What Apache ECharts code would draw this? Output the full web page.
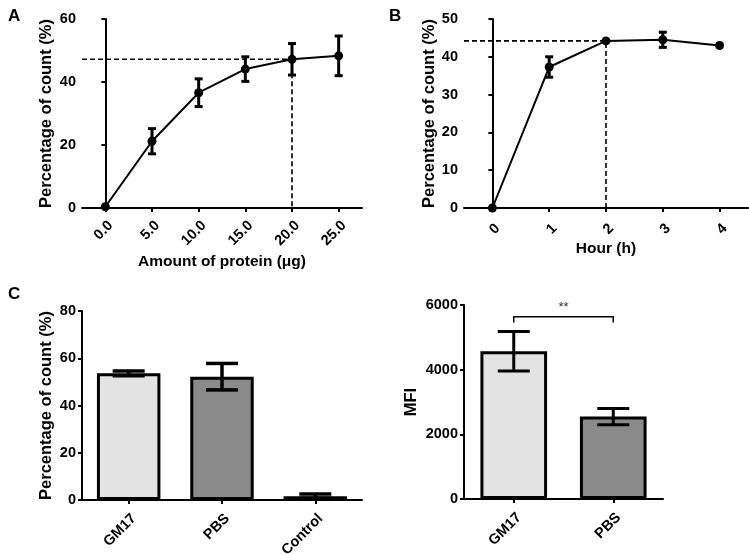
<!DOCTYPE html>
<html>
<head>
  <meta charset="UTF-8">
  <title>Binding assays</title>
  <script src="https://cdn.jsdelivr.net/npm/echarts@6/dist/echarts.min.js"></script>
  <style>
    html, body { margin: 0; padding: 0; background: #fff; }
    #chart { width: 749px; height: 554px; }
  </style>
</head>
<body>
<div id="chart"></div>
<script>
  // panel A: dose response
  var proteinDose = [0, 5, 10, 15, 20, 25];
  var proteinMean = [0.4, 21.2, 36.6, 44.1, 47.2, 48.3];
  var proteinErr = [0, 4.0, 4.4, 3.9, 5.0, 6.3];
  // panel B: time course
  var hours = [0, 1, 2, 3, 4];
  var hourMean = [0, 37.3, 44.2, 44.5, 43.0];
  var hourErr = [0, 2.7, 0, 2.0, 0];
  // panel C left
  var countGroups = ['GM17', 'PBS', 'Control'];
  var countMean = [53.6, 52.2, 1.6];
  var countErr = [1.0, 5.6, 0.9];
  // panel C right
  var mfiGroups = ['GM17', 'PBS'];
  var mfiMean = [4570, 2550];
  var mfiErr = [610, 250];
  var mfiBracket = [5640, 5455]; // top, leg end

  var FONT = '"Liberation Sans", Arial, sans-serif';
  var fills = ['#e3e3e3', '#8a8a8a', '#e3e3e3'];

  function errData(xs, mean, err) {
    return xs.map(function (x, i) { return [x, mean[i] - err[i], mean[i] + err[i]]; });
  }

  function errorBar(capHalf, lw) {
    return function (params, api) {
      var top = api.coord([api.value(0), api.value(2)]);
      var bot = api.coord([api.value(0), api.value(1)]);
      if (Math.abs(top[1] - bot[1]) < 0.5) return null;
      var st = { stroke: '#000', lineWidth: lw };
      return { type: 'group', children: [
        { type: 'line', shape: { x1: top[0], y1: top[1], x2: bot[0], y2: bot[1] }, style: st },
        { type: 'line', shape: { x1: top[0] - capHalf, y1: top[1], x2: top[0] + capHalf, y2: top[1] }, style: st },
        { type: 'line', shape: { x1: bot[0] - capHalf, y1: bot[1], x2: bot[0] + capHalf, y2: bot[1] }, style: st }
      ]};
    };
  }

  var axisLine = { show: true, lineStyle: { color: '#000', width: 2 } };
  var axisTick = { show: true, length: 4, lineStyle: { color: '#000', width: 2 } };
  var tickLabel = { color: '#000', fontSize: 14.5, fontWeight: 'bold', fontFamily: FONT };
  var yNameStyle = { color: '#000', fontSize: 16.5, fontWeight: 'bold', fontFamily: FONT };
  var xNameStyle = { color: '#000', fontSize: 15.5, fontWeight: 'bold', fontFamily: FONT };

  function yAxis(idx, max, step, name, gap) {
    return {
      type: 'value', gridIndex: idx, min: 0, max: max, interval: step,
      name: name, nameLocation: 'middle', nameGap: gap, nameTextStyle: yNameStyle,
      axisLine: axisLine, axisTick: axisTick, splitLine: { show: false },
      axisLabel: Object.assign({ margin: 6, formatter: function (v) { return String(v); } }, tickLabel)
    };
  }

  // slanted labels hang from their top-right corner
  function slanted(margin, extra) {
    return Object.assign({ rotate: 45, margin: margin, verticalAlign: 'top', align: 'right' }, tickLabel, extra || {});
  }

  function grid(l, t, w, h) {
    return { left: l, top: t, width: w, height: h, outerBoundsMode: 'none', containLabel: false };
  }

  var chart = echarts.init(document.getElementById('chart'));
  chart.setOption({
    animation: false,
    backgroundColor: '#fff',
    title: [
      { text: 'A', left: 3, top: 3, textStyle: { fontSize: 17, fontWeight: 'bold', fontFamily: FONT, color: '#000' } },
      { text: 'B', left: 384, top: 3, textStyle: { fontSize: 17, fontWeight: 'bold', fontFamily: FONT, color: '#000' } },
      { text: 'C', left: 3, top: 281, textStyle: { fontSize: 17, fontWeight: 'bold', fontFamily: FONT, color: '#000' } }
    ],
    grid: [
      grid(82, 19, 280, 189),
      grid(464, 19, 284, 189),
      grid(82, 311, 280, 189),
      grid(464, 305, 199, 194)
    ],
    xAxis: [
      {
        type: 'value', gridIndex: 0, min: -2.5, max: 27.5,
        name: 'Amount of protein (\u03bcg)', nameLocation: 'middle', nameGap: 46, nameTextStyle: xNameStyle,
        axisLine: axisLine, splitLine: { show: false },
        axisTick: Object.assign({ customValues: proteinDose }, axisTick),
        axisLabel: slanted(10, { customValues: proteinDose,
          formatter: function (v) { return v.toFixed(1); } })
      },
      {
        type: 'value', gridIndex: 1, min: -0.5, max: 4.5,
        name: 'Hour (h)', nameLocation: 'middle', nameGap: 33, nameTextStyle: xNameStyle,
        axisLine: axisLine, splitLine: { show: false },
        axisTick: Object.assign({ customValues: hours }, axisTick),
        axisLabel: slanted(13, { customValues: hours })
      },
      {
        type: 'category', gridIndex: 2, data: countGroups,
        axisLine: axisLine, axisTick: Object.assign({ alignWithLabel: true }, axisTick),
        axisLabel: slanted(11, { interval: 0 })
      },
      {
        type: 'category', gridIndex: 3, data: mfiGroups,
        axisLine: axisLine, axisTick: Object.assign({ alignWithLabel: true }, axisTick),
        axisLabel: slanted(11, { interval: 0 })
      }
    ],
    yAxis: [
      yAxis(0, 60, 20, 'Percentage of count (%)', 27),
      yAxis(1, 50, 10, 'Percentage of count (%)', 23),
      yAxis(2, 80, 20, 'Percentage of count (%)', 27),
      yAxis(3, 6000, 2000, 'MFI', 44)
    ],
    series: [
      // A
      {
        type: 'line', xAxisIndex: 0, yAxisIndex: 0, symbol: 'none',
        data: [[-2.5, proteinMean[4]], [proteinDose[4], proteinMean[4]], [proteinDose[4], 0]],
        lineStyle: { color: '#000', width: 1.6, type: [5, 3] }, z: 1
      },
      {
        type: 'line', xAxisIndex: 0, yAxisIndex: 0, symbol: 'circle', symbolSize: 9,
        data: proteinDose.map(function (x, i) { return [x, proteinMean[i]]; }),
        lineStyle: { color: '#000', width: 2 }, itemStyle: { color: '#000' }, z: 3
      },
      {
        type: 'custom', xAxisIndex: 0, yAxisIndex: 0, renderItem: errorBar(4, 3),
        data: errData(proteinDose, proteinMean, proteinErr), z: 4
      },
      // B
      {
        type: 'line', xAxisIndex: 1, yAxisIndex: 1, symbol: 'none',
        data: [[-0.5, hourMean[2]], [hours[2], hourMean[2]], [hours[2], 0]],
        lineStyle: { color: '#000', width: 1.6, type: [5, 3] }, z: 1
      },
      {
        type: 'line', xAxisIndex: 1, yAxisIndex: 1, symbol: 'circle', symbolSize: 9,
        data: hours.map(function (x, i) { return [x, hourMean[i]]; }),
        lineStyle: { color: '#000', width: 2 }, itemStyle: { color: '#000' }, z: 3
      },
      {
        type: 'custom', xAxisIndex: 1, yAxisIndex: 1, renderItem: errorBar(4, 3),
        data: errData(hours, hourMean, hourErr), z: 4
      },
      // C left
      {
        type: 'bar', xAxisIndex: 2, yAxisIndex: 2, barWidth: '68%',
        data: countMean.map(function (v, i) {
          return { value: v, itemStyle: { color: fills[i] } };
        }),
        itemStyle: { borderColor: '#000', borderWidth: 3 }
      },
      {
        type: 'custom', xAxisIndex: 2, yAxisIndex: 2, renderItem: errorBar(16, 3.5),
        data: errData([0, 1, 2], countMean, countErr), z: 4
      },
      // C right
      {
        type: 'bar', xAxisIndex: 3, yAxisIndex: 3, barWidth: '67%',
        data: mfiMean.map(function (v, i) {
          return { value: v, itemStyle: { color: fills[i] } };
        }),
        itemStyle: { borderColor: '#000', borderWidth: 3 }
      },
      {
        type: 'custom', xAxisIndex: 3, yAxisIndex: 3, renderItem: errorBar(16, 3),
        data: errData([0, 1], mfiMean, mfiErr), z: 4
      },
      {
        type: 'custom', xAxisIndex: 3, yAxisIndex: 3,
        data: [[0, 1, mfiBracket[0], mfiBracket[1]]],
        renderItem: function (params, api) {
          var a = api.coord([api.value(0), api.value(2)]);
          var b = api.coord([api.value(1), api.value(2)]);
          var foot = api.coord([api.value(0), api.value(3)])[1];
          return { type: 'group', children: [
            { type: 'polyline', shape: { points: [[a[0], foot], a, b, [b[0], foot]] },
              style: { stroke: '#000', lineWidth: 1.5, fill: null } },
            { type: 'text', x: (a[0] + b[0]) / 2, y: a[1] - 3,
              style: { text: '**', fill: '#333', font: '13px ' + FONT, align: 'center', verticalAlign: 'bottom' } }
          ]};
        }
      }
    ]
  });
</script>
</body>
</html>
